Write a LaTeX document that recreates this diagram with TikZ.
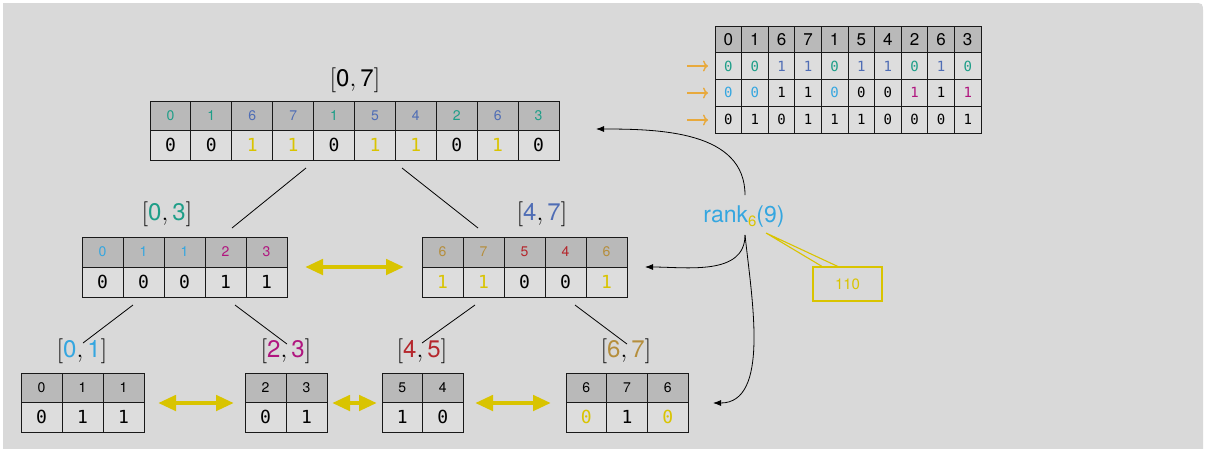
\documentclass[tikz,border=0pt]{standalone}
\usepackage{fontspec}
\setmainfont{TeX Gyre Heros}
\newfontfamily\monof{DejaVu Sans Mono}
\usetikzlibrary{arrows.meta}
\definecolor{bg}{HTML}{D9D9D9}
\definecolor{hdr}{HTML}{B9B9B9}
\definecolor{cellbg}{HTML}{DDDDDD}
\definecolor{cteal}{HTML}{1E9E88}
\definecolor{cblue}{HTML}{4F6DB5}
\definecolor{cyel}{HTML}{D9C400}
\definecolor{ccyan}{HTML}{34A6E0}
\definecolor{cmag}{HTML}{B0157F}
\definecolor{cbrown}{HTML}{B58E3C}
\definecolor{cred}{HTML}{B5262C}
\definecolor{corange}{HTML}{E8A93C}
\newcommand\Ct[1]{\textcolor{cteal}{#1}}
\newcommand\Cb[1]{\textcolor{cblue}{#1}}
\newcommand\Cy[1]{\textcolor{cyel}{#1}}
\newcommand\Cc[1]{\textcolor{ccyan}{#1}}
\newcommand\Cm[1]{\textcolor{cmag}{#1}}
\newcommand\Cw[1]{\textcolor{cbrown}{#1}}
\newcommand\Cr[1]{\textcolor{cred}{#1}}
\newcommand\rng[3]{$[$\textcolor{#1}{#2}$,\,$\textcolor{#1}{#3}$]$}
\newcommand\mkrow[7]{\foreach \v [count=\i] in {#7}{\node[#6,minimum width=#4,minimum height=#5] (#1\i) at ({#2+(\i-0.5)*#4},{#3+0.5*#5}) {\v};}}
\tikzset{
  cellbase/.style={draw=black!90,line width=1pt,inner sep=0pt,outer sep=0pt},
  hcell/.style={cellbase,fill=hdr,font=\fontsize{14}{16}\selectfont},
  bcell/.style={cellbase,fill=cellbg,font=\monof\fontsize{18}{20}\selectfont},
  hcellR/.style={cellbase,fill=hdr,font=\fontsize{17}{19}\selectfont},
  bcellR/.style={cellbase,fill=cellbg,font=\monof\fontsize{14}{16}\selectfont},
  lbl/.style={font=\fontsize{24}{27}\selectfont,inner sep=0pt},
  tree/.style={draw=black,line width=0.8pt},
  dbl/.style={draw=cyel,line width=4.5pt,{Triangle[length=18pt,width=15pt]}-{Triangle[length=18pt,width=15pt]}},
  link/.style={draw=black,line width=0.8pt,-{Latex[length=8pt,width=6pt]}},
  orar/.style={draw=corange,line width=1.4pt,-{To[length=5pt,width=11pt]}}
}
\begin{document}
\begin{tikzpicture}[x=1pt,y=-1pt]
\useasboundingbox (0,0) rectangle (1206,448);
\fill[white] (0,0) rectangle (1206,448);
\fill[bg] (3,3) -- (1193,3) .. controls (1203,3) .. (1203,13) -- (1203,449) -- (3,449) -- cycle;

% top-right table
\mkrow{Rh}{715}{26}{26.6}{26.75}{hcellR}{0,1,6,7,1,5,4,2,6,3}
\mkrow{Ra}{715}{52.75}{26.6}{26.75}{bcellR}{\Ct{0},\Ct{0},\Cb{1},\Cb{1},\Ct{0},\Cb{1},\Cb{1},\Ct{0},\Cb{1},\Ct{0}}
\mkrow{Rb}{715}{79.5}{26.6}{26.75}{bcellR}{\Cc{0},\Cc{0},1,1,\Cc{0},0,0,\Cm{1},1,\Cm{1}}
\mkrow{Rc}{715}{106.25}{26.6}{26.75}{bcellR}{0,1,0,1,1,1,0,0,0,1}
\coordinate (oa1s) at (687,66); \coordinate (oa1e) at (708,66);
\coordinate (oa2s) at (687,93); \coordinate (oa2e) at (708,93);
\coordinate (oa3s) at (687,120); \coordinate (oa3e) at (708,120);
\draw[orar] (oa1s) -- (oa1e);
\draw[orar] (oa2s) -- (oa2e);
\draw[orar] (oa3s) -- (oa3e);

% top table [0,7]
\node[lbl] (L07) at (355,80) {\rng{black}{0}{7}};
\mkrow{Ah}{150}{101}{40.9}{29.5}{hcell}{\Ct{0},\Ct{1},\Cb{6},\Cb{7},\Ct{1},\Cb{5},\Cb{4},\Ct{2},\Cb{6},\Ct{3}}
\mkrow{Ab}{150}{130.5}{40.9}{29.5}{bcell}{0,0,\Cy{1},\Cy{1},0,\Cy{1},\Cy{1},0,\Cy{1},0}

% mid tables
\node[lbl] (L03) at (167,214) {\rng{cteal}{0}{3}};
\mkrow{Bh}{82}{237}{41}{30}{hcell}{\Cc{0},\Cc{1},\Cc{1},\Cm{2},\Cm{3}}
\mkrow{Bb}{82}{267}{41}{30}{bcell}{0,0,0,1,1}
\node[lbl] (L47) at (542,214) {\rng{cblue}{4}{7}};
\mkrow{Ch}{422}{237}{41}{30}{hcell}{\Cw{6},\Cw{7},\Cr{5},\Cr{4},\Cw{6}}
\mkrow{Cb}{422}{267}{41}{30}{bcell}{\Cy{1},\Cy{1},0,0,\Cy{1}}

% bottom tables
\node[lbl] (L01) at (82,351) {\rng{ccyan}{0}{1}};
\mkrow{Dh}{21}{373}{41}{29.5}{hcell}{0,1,1}
\mkrow{Db}{21}{402.5}{41}{29.5}{bcell}{0,1,1}
\node[lbl] (L23) at (286,351) {\rng{cmag}{2}{3}};
\mkrow{Eh}{245}{373}{41}{29.5}{hcell}{2,3}
\mkrow{Eb}{245}{402.5}{41}{29.5}{bcell}{0,1}
\node[lbl] (L45) at (422,351) {\rng{cred}{4}{5}};
\mkrow{Fh}{382}{373}{40.5}{29.5}{hcell}{5,4}
\mkrow{Fb}{382}{402.5}{40.5}{29.5}{bcell}{1,0}
\node[lbl] (L67) at (626,351) {\rng{cbrown}{6}{7}};
\mkrow{Gh}{566}{373}{40.7}{29.5}{hcell}{6,7,6}
\mkrow{Gb}{566}{402.5}{40.7}{29.5}{bcell}{\Cy{0},1,\Cy{0}}

% tree edges
\coordinate (t1a) at (306,168); \coordinate (t1b) at (232,228);
\coordinate (t2a) at (402,168); \coordinate (t2b) at (478,228);
\coordinate (t3a) at (133,305); \coordinate (t3b) at (83,343);
\coordinate (t4a) at (235,305); \coordinate (t4b) at (287,344);
\coordinate (t5a) at (475,305); \coordinate (t5b) at (422,343);
\coordinate (t6a) at (575,305); \coordinate (t6b) at (627,344);
\draw[tree] (t1a) -- (t1b);
\draw[tree] (t2a) -- (t2b);
\draw[tree] (t3a) -- (t3b);
\draw[tree] (t4a) -- (t4b);
\draw[tree] (t5a) -- (t5b);
\draw[tree] (t6a) -- (t6b);

% yellow double arrows
\coordinate (y1a) at (305,267); \coordinate (y1b) at (404,267);
\coordinate (y2a) at (158,403); \coordinate (y2b) at (234,403);
\coordinate (y3a) at (332,403); \coordinate (y3b) at (377,403);
\coordinate (y4a) at (475,403); \coordinate (y4b) at (551,403);
\draw[dbl] (y1a) -- (y1b);
\draw[dbl] (y2a) -- (y2b);
\draw[dbl] (y3a) -- (y3b);
\draw[dbl] (y4a) -- (y4b);

% rank node and links
\node[text=ccyan,font=\fontsize{23}{25}\selectfont,inner sep=0pt,anchor=base] (rank) at (744,222)
  {rank\raisebox{-4pt}{\fontsize{15}{15}\selectfont\textcolor{cyel}{6}}(9)};
\coordinate (rtop) at (745,195);
\coordinate (rbot) at (745,235);
\coordinate (e1) at (596,129);
\coordinate (e2) at (645,267);
\coordinate (e3) at (713,403);
\draw[link] (rtop) to[out=90,in=0] (e1);
\draw[link] (rbot) to[out=-90,in=0] (e2);
\draw[link] (rbot) .. controls (752,300) and (770,403) .. (e3);

% callout
\node[draw=cyel,line width=1.2pt,text=cyel,minimum width=69pt,minimum height=34pt,inner sep=0pt,font=\fontsize{15}{17}\selectfont] (c110) at (847.5,284) {110};
\coordinate (ctip) at (766,233);
\draw[cyel,line width=1.1pt] (ctip) -- (823,267) (ctip) -- (839,267);
\end{tikzpicture}
\end{document}
